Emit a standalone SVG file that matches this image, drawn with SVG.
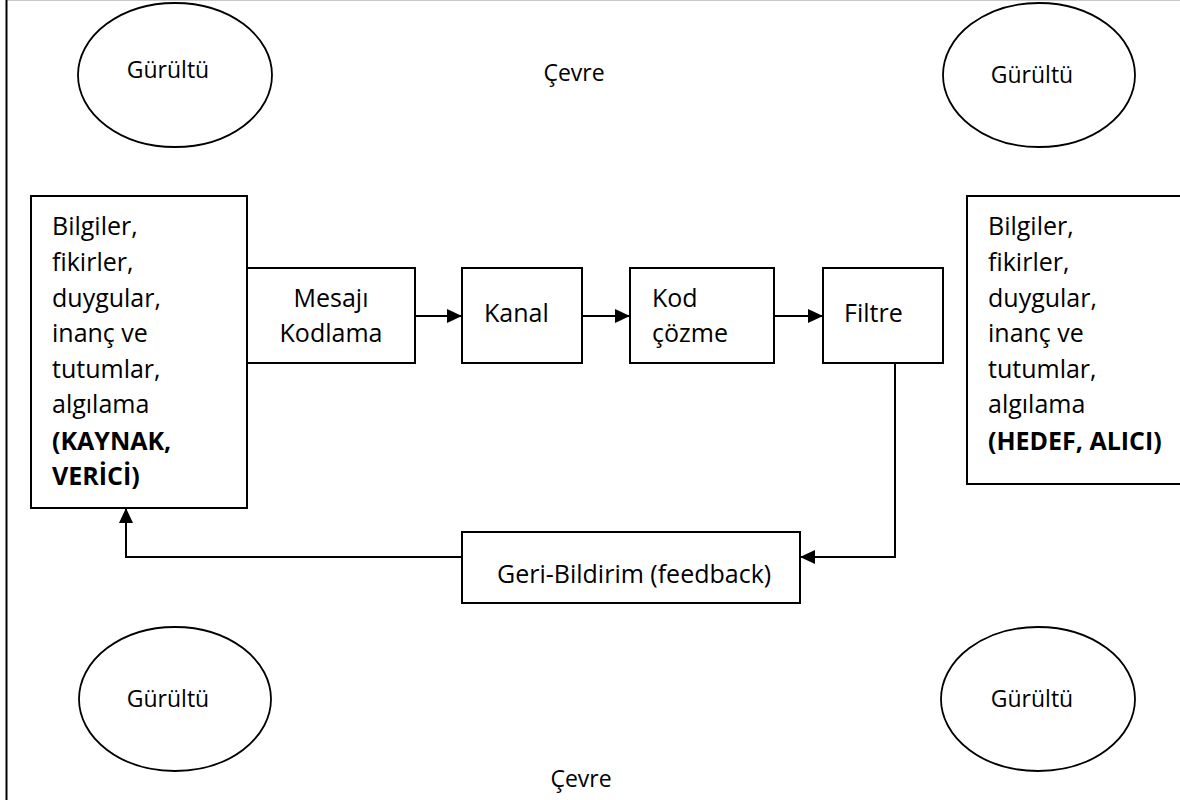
<svg xmlns="http://www.w3.org/2000/svg" width="1180" height="800" viewBox="0 0 1180 800">
<style>
  .box{fill:#fff;stroke:#000;stroke-width:2}
  .ell{fill:#fff;stroke:#000;stroke-width:1.8}
  .t{font-family:"Open Sans","Liberation Sans",sans-serif;font-size:25px;fill:#000}
  .s{font-family:"Open Sans","Liberation Sans",sans-serif;font-size:23px;fill:#000}
  .b{font-weight:bold}
  .c{stroke:#000;stroke-width:2;fill:none}
</style>
<defs>
  <marker id="arr" markerUnits="userSpaceOnUse" markerWidth="16" markerHeight="14" refX="15" refY="7" orient="auto">
    <path d="M0,0 L15,7 L0,14 Z" fill="#000"/>
  </marker>
</defs>
<rect width="1180" height="800" fill="#fff"/>
<line x1="7" y1="0.5" x2="1180" y2="0.5" stroke="#c8c8c8" stroke-width="1"/>
<line x1="6.5" y1="0" x2="6.5" y2="800" stroke="#000" stroke-width="2"/>

<text class="s" x="574" y="81" text-anchor="middle">Çevre</text>
<text class="s" x="581" y="787" text-anchor="middle">Çevre</text>

<g id="noise-tl"><ellipse class="ell" cx="175" cy="75" rx="97" ry="72"/><text class="s" x="168" y="78" text-anchor="middle">Gürültü</text></g>
<g id="noise-tr"><ellipse class="ell" cx="1039" cy="75" rx="96" ry="72"/><text class="s" x="1032" y="83" text-anchor="middle">Gürültü</text></g>
<g id="noise-bl"><ellipse class="ell" cx="175" cy="699" rx="96" ry="72"/><text class="s" x="168" y="707" text-anchor="middle">Gürültü</text></g>
<g id="noise-br"><ellipse class="ell" cx="1038" cy="699" rx="97" ry="72"/><text class="s" x="1032" y="707" text-anchor="middle">Gürültü</text></g>

<g id="source">
  <rect class="box" x="31" y="196" width="216" height="312"/>
  <text class="t" x="52" y="235">Bilgiler,</text>
  <text class="t" x="52" y="271">fikirler,</text>
  <text class="t" x="52" y="307">duygular,</text>
  <text class="t" x="52" y="342">inanç ve</text>
  <text class="t" x="52" y="378">tutumlar,</text>
  <text class="t" x="52" y="413">algılama</text>
  <text class="t b" x="52" y="450">(KAYNAK,</text>
  <text class="t b" x="52" y="485">VERİCİ)</text>
</g>

<g id="encode">
  <rect class="box" x="247" y="268" width="168" height="95"/>
  <text class="t" x="331" y="307" text-anchor="middle">Mesajı</text>
  <text class="t" x="331" y="342" text-anchor="middle">Kodlama</text>
</g>

<g id="channel">
  <rect class="box" x="462" y="268" width="120" height="95"/>
  <text class="t" x="484" y="322">Kanal</text>
</g>

<g id="decode">
  <rect class="box" x="630" y="268" width="144" height="95"/>
  <text class="t" x="652" y="307">Kod</text>
  <text class="t" x="652" y="342">çözme</text>
</g>

<g id="filter">
  <rect class="box" x="823" y="268" width="120" height="95"/>
  <text class="t" x="844" y="322">Filtre</text>
</g>

<g id="receiver">
  <rect class="box" x="967" y="196" width="220" height="288"/>
  <text class="t" x="988" y="235">Bilgiler,</text>
  <text class="t" x="988" y="271">fikirler,</text>
  <text class="t" x="988" y="307">duygular,</text>
  <text class="t" x="988" y="342">inanç ve</text>
  <text class="t" x="988" y="378">tutumlar,</text>
  <text class="t" x="988" y="413">algılama</text>
  <text class="t b" x="988" y="450">(HEDEF, ALICI)</text>
</g>

<g id="feedback">
  <rect class="box" x="462" y="532" width="338" height="71"/>
  <text class="t" x="497" y="583">Geri-Bildirim (feedback)</text>
</g>

<g id="connectors">
  <line class="c" x1="415" y1="316" x2="462" y2="316" marker-end="url(#arr)"/>
  <line class="c" x1="582" y1="316" x2="630" y2="316" marker-end="url(#arr)"/>
  <line class="c" x1="774" y1="316" x2="823" y2="316" marker-end="url(#arr)"/>
  <polyline class="c" points="895,363 895,557 800,557" marker-end="url(#arr)"/>
  <polyline class="c" points="462,557 126,557 126,508" marker-end="url(#arr)"/>
</g>
</svg>
